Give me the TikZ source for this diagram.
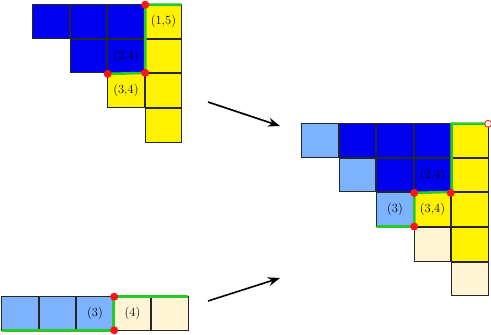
\documentclass[tikz,border=0pt]{standalone}
\usepackage{tikz}
\usetikzlibrary{matrix,arrows.meta}

\definecolor{deepblue}{RGB}{0,0,240}
\definecolor{paleblue}{RGB}{125,178,255}
\definecolor{cream}{RGB}{255,245,212}
\definecolor{rimgreen}{RGB}{40,200,40}
\definecolor{dotred}{RGB}{250,20,20}

\tikzset{
  cell/.style={draw=black!85, line width=1pt, minimum width=36.5pt,
    minimum height=33.6pt, inner sep=0pt, outer sep=0pt, anchor=center,
    font=\fontsize{12.5}{15}\selectfont},
  bl/.style={fill=deepblue},
  ye/.style={fill=yellow},
  lb/.style={fill=paleblue},
  cr/.style={fill=cream},
  rim/.style={draw=rimgreen, line width=2.6pt},
  dot/.style={fill=dotred},
  push/.style={line width=1.6pt, -{Stealth[length=12pt,width=9pt]}}
}

\begin{document}
\begin{tikzpicture}[x=1pt,y=-1pt]
\useasboundingbox (0,0) rectangle (491,335);

% first tableau
\matrix (tl) [
    matrix of nodes, anchor=north west, inner sep=0pt,
    column sep=0pt, row sep=0pt,
    nodes={cell}
] at (32,4)
{
|[bl]| & |[bl]| & |[bl]|      & |[ye]| (1,5) \\
       & |[bl]| & |[bl]| (2,4) & |[ye]|      \\
       &        & |[ye]| (3,4) & |[ye]|      \\
       &        &             & |[ye]|      \\
};

% single row
\matrix (rw) [
    matrix of nodes, anchor=north west, inner sep=0pt,
    column sep=0pt, row sep=0pt,
    nodes={cell}
] at (1,296)
{
|[lb]| & |[lb]| & |[lb]| (3) & |[cr]| (4) & |[cr]| \\
};

% result
\matrix (rs) [
    matrix of nodes, anchor=north west, inner sep=0pt,
    column sep=0pt, row sep=0pt,
    nodes={cell}
] at (301,123)
{
|[lb]| & |[bl]| & |[bl]|     & |[bl]|       & |[ye]| \\
       & |[lb]| & |[bl]|     & |[bl]| (2,4) & |[ye]| \\
       &        & |[lb]| (3) & |[ye]| (3,4) & |[ye]| \\
       &        &            & |[cr]|       & |[ye]| \\
       &        &            &              & |[cr]| \\
};

% green rims
\draw[rim] (tl-1-4.north east) -- (tl-1-4.north west) -- (tl-2-4.south west)
  -- (tl-3-3.north west);
\draw[rim] (rw-1-1.south west) -- (rw-1-3.south east) -- (rw-1-3.north east)
  -- (rw-1-5.north east);
\draw[rim] (rs-1-5.north east) -- (rs-1-5.north west) -- (rs-2-5.south west)
  -- (rs-3-4.north west) -- (rs-3-4.south west) -- (rs-3-3.south west);

% red corners
\foreach \c in {tl-1-4.north west, tl-2-4.south west, tl-3-3.north west,
  rw-1-4.north west, rw-1-4.south west,
  rs-3-4.north west, rs-3-4.north east, rs-3-4.south west}
  \fill[dot] (\c) circle (4pt);
\draw[dotred, fill=white, line width=0.8pt] (rs-1-5.north east) circle (3.4pt);

% arrows
\coordinate (p1) at (208,102);
\coordinate (q1) at (280,126);
\coordinate (p2) at (208,301);
\coordinate (q2) at (280,278);
\draw[push] (p1) -- (q1);
\draw[push] (p2) -- (q2);
\end{tikzpicture}
\end{document}
